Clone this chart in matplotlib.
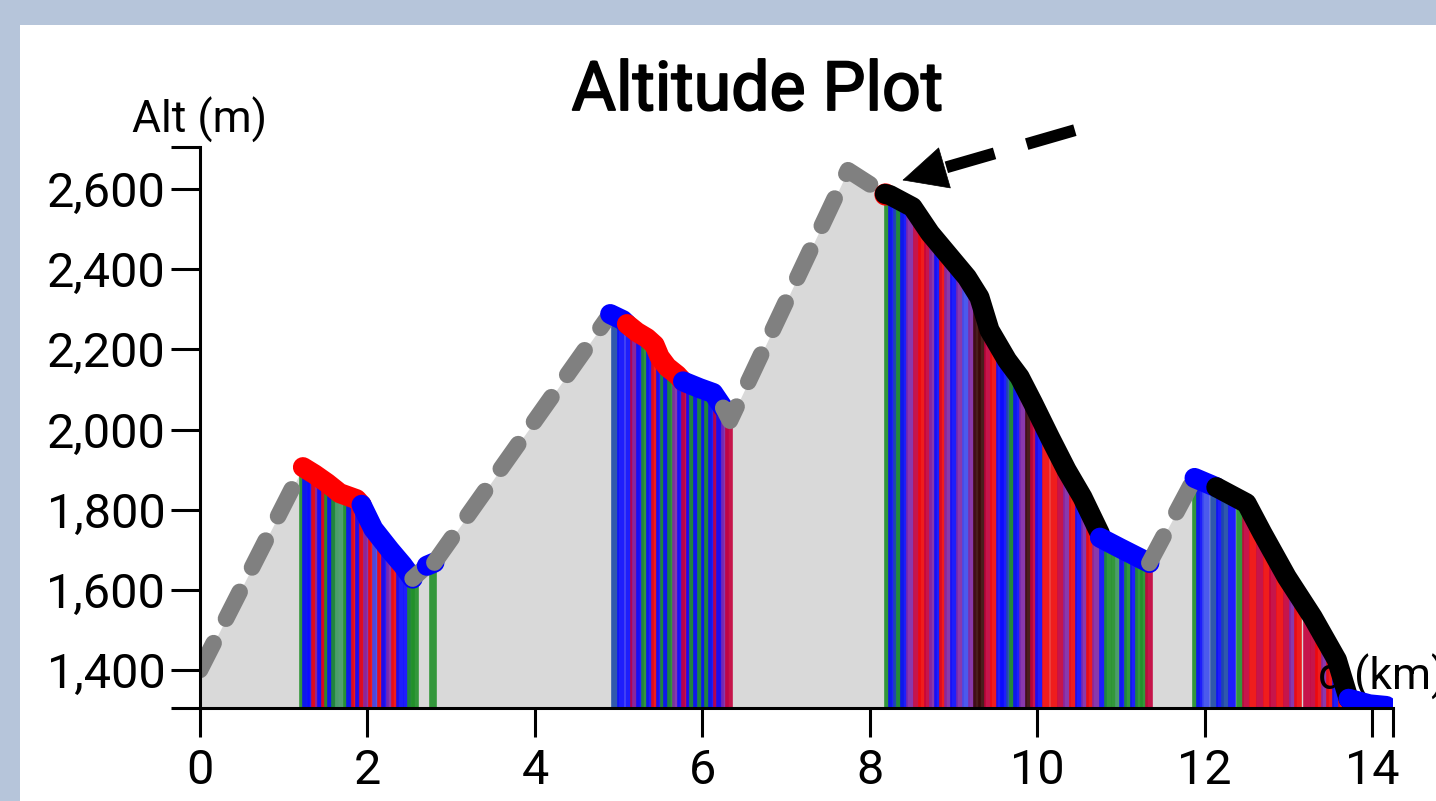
import matplotlib.pyplot as plt
import matplotlib.patheffects as pe
import numpy as np
from matplotlib.patches import Rectangle

plt.rcParams['font.family'] = ['Roboto', 'DejaVu Sans']

# altitude profile, one piece per drawn segment (km, m) and its kind
seg_km = [
    [0.0, 1.23],
    [1.23, 1.37, 1.52, 1.67, 1.87, 1.93],
    [1.93, 2.07, 2.27, 2.42, 2.54],
    [2.54, 2.71],
    [2.71, 2.80],
    [2.80, 4.90],
    [4.90, 5.05, 5.10],
    [5.10, 5.22, 5.34, 5.43, 5.49, 5.58, 5.70, 5.77],
    [5.77, 5.97, 6.13, 6.25],
    [6.25, 6.33, 7.74, 8.18],
    [8.18, 8.24, 8.51, 8.72, 8.92, 9.16, 9.31, 9.43, 9.64, 9.79, 9.95, 10.15, 10.35, 10.54, 10.75],
    [10.75, 10.99, 11.34],
    [11.34, 11.88],
    [11.88, 12.14],
    [12.14, 12.50, 12.69, 12.98, 13.29, 13.58, 13.72],
    [13.72, 13.97, 14.17],
]
seg_alt = [
    [1400, 1906],
    [1906, 1888, 1866, 1841, 1826, 1812],
    [1812, 1752, 1699, 1662, 1628],
    [1628, 1660],
    [1660, 1668],
    [1668, 2288],
    [2288, 2273, 2263],
    [2263, 2243, 2228, 2211, 2181, 2156, 2136, 2120],
    [2120, 2103, 2091, 2054],
    [2054, 2022, 2647, 2588],
    [2588, 2585, 2555, 2490, 2440, 2380, 2330, 2248, 2173, 2131, 2066, 1981, 1899, 1831, 1740],
    [1730, 1704, 1667],
    [1667, 1879],
    [1879, 1856],
    [1856, 1816, 1741, 1632, 1532, 1425, 1328],
    [1328, 1314, 1310],
]
seg_kind = ['gap', 'red', 'blue', 'gap', 'blue', 'gap', 'blue', 'red', 'blue',
            'gap', 'black', 'blue', 'gap', 'blue', 'black', 'blue']

# highest recorded point, marked in red
top_km, top_alt = 8.18, 2588

# sample stripes under the recorded parts (km, colour code)
stripe_km = [
    1.23, 1.27, 1.33, 1.37, 1.42, 1.45, 1.49, 1.53, 1.57, 1.61, 1.66, 1.71, 1.75, 1.79, 1.85,
    1.90, 1.95, 2.00, 2.05, 2.10, 2.16, 2.21, 2.27, 2.33, 2.39, 2.47, 2.52, 2.57, 2.78,
    4.96, 5.03, 5.12, 5.18, 5.21, 5.26, 5.31, 5.37, 5.43, 5.49, 5.54, 5.58, 5.63, 5.68,
    5.74, 5.79, 5.85, 5.89, 5.94, 5.99, 6.03, 6.07, 6.12, 6.17, 6.21, 6.27, 6.32,
    8.22, 8.27, 8.32, 8.36, 8.41, 8.48, 8.56, 8.63, 8.69, 8.75, 8.82, 8.88, 8.94, 9.01,
    9.08, 9.15, 9.22, 9.28, 9.34, 9.41, 9.49, 9.55, 9.60, 9.67, 9.71, 9.76, 9.83, 9.90,
    9.96, 10.02, 10.10, 10.20, 10.29, 10.36, 10.43, 10.50, 10.57, 10.63, 10.70, 10.79,
    10.85, 10.93, 10.98, 11.03, 11.09, 11.16, 11.22, 11.28, 11.34,
    11.90, 11.95, 12.02, 12.11, 12.18, 12.24, 12.33, 12.42, 12.49, 12.58, 12.66, 12.74,
    12.82, 12.90, 12.98, 13.05, 13.12, 13.22, 13.31, 13.37, 13.44, 13.50, 13.57, 13.64,
]
stripe_code = ("gbbrpbrgbgGGgbrbrprBrbprbbggg"
               "tbbcpbgbrbgbgpbcbgbgbgbcbpc"
               "gbtgbpcrcpbrpbpBpddcrbbtgbpdcbrrcprbprpbggGbgbggc"
               "gbBtbtbgcrcrcrcprccrprbr")

x_ticks = [0, 2, 4, 6, 8, 10, 12, 14]
y_ticks = [1400, 1600, 1800, 2000, 2200, 2400, 2600]

palette = {'b': '#0a0aff', 'B': '#3c4cf0', 't': '#1e4aa8', 'r': '#f20808',
           'c': '#c4003c', 'p': '#8028a8', 'g': '#21902a', 'G': '#4e9e70',
           'd': '#3a0808'}
line_col = {'red': '#ff0000', 'blue': '#0000ff', 'black': '#000000'}

W, H = 1436, 801
fig = plt.figure(figsize=(W / 100, H / 100), dpi=100)
fig.patch.set_facecolor('#b6c5da')
fig.add_artist(Rectangle((20 / W, 0), 1, 776 / H, transform=fig.transFigure,
                         facecolor='white', edgecolor='none', zorder=-10))

ax = fig.add_axes([200 / W, 93 / H, 1193 / W, 561 / H])
ax.patch.set_alpha(0)
ymin, ymax = 1305, 2705
ax.set_xlim(0, 14.25)
ax.set_ylim(ymin, ymax)

# grey area under the whole profile
all_km = np.concatenate(seg_km)
all_alt = np.concatenate(seg_alt)
area = ax.fill_between(all_km, all_alt, ymin, color='#d9d9d9', lw=0, zorder=1)

stripes = ax.vlines(stripe_km, ymin, ymax, colors=[palette[c] for c in stripe_code],
                    linewidth=5.5, alpha=0.9, zorder=2)
stripes.set_clip_path(area.get_paths()[0], ax.transData)

ax.text(13.35, 1350, 'd (km)', fontsize=32, ha='left', va='baseline',
        clip_on=False, zorder=2.5)

for km, alt, kind in zip(seg_km, seg_alt, seg_kind):
    if kind == 'gap':
        ax.plot(km, alt, color='#808080', lw=12, linestyle=(0, (1.8, 1.65)),
                dash_capstyle='round', zorder=3)
        continue
    if km[0] == top_km:
        ax.plot(top_km, top_alt, 'o', color='red', ms=16, mec='none', zorder=3)
    ax.plot(km, alt, color=line_col[kind], lw=14.5, solid_capstyle='round',
            solid_joinstyle='round', zorder=3)

# pointer to the highest recorded point
ax.plot([10.45, 8.86], [2747, 2651], color='black', lw=8.6, linestyle=(0, (4.2, 2.8)),
        solid_capstyle='butt', clip_on=False, zorder=5)
ax.annotate('', xy=(8.39, 2622), xytext=(8.88, 2652),
            arrowprops=dict(arrowstyle='-|>,head_length=3.1,head_width=1.5',
                            color='black', lw=0.5, shrinkA=0, shrinkB=0),
            annotation_clip=False, zorder=5)

for s in ['top', 'right']:
    ax.spines[s].set_visible(False)
for s in ['left', 'bottom']:
    ax.spines[s].set_linewidth(2.2)
    ax.spines[s].set_zorder(6)

ax.set_xticks(x_ticks)
ax.set_xticklabels([str(v) for v in x_ticks])
ax.set_yticks(y_ticks)
ax.set_yticklabels(['{:,}'.format(v) for v in y_ticks])
ax.set_xticks([14.25], minor=True)
ax.set_yticks([ymin, ymax], minor=True)
ax.tick_params(which='both', length=21, width=2.2, color='black', labelsize=35)
ax.tick_params(axis='x', pad=8)
ax.tick_params(axis='y', pad=4)

ax.annotate('Alt (m)', xy=(0, 1), xycoords='axes fraction', xytext=(0, 10),
            textcoords='offset points', ha='center', va='baseline', fontsize=32)

fig.text(757 / W, 691 / H, 'Altitude Plot', ha='center', va='baseline',
         fontsize=49, fontweight='normal',
         path_effects=[pe.withStroke(linewidth=1.3, foreground='black')])

fig.savefig('out.png', dpi=100, facecolor=fig.get_facecolor())
